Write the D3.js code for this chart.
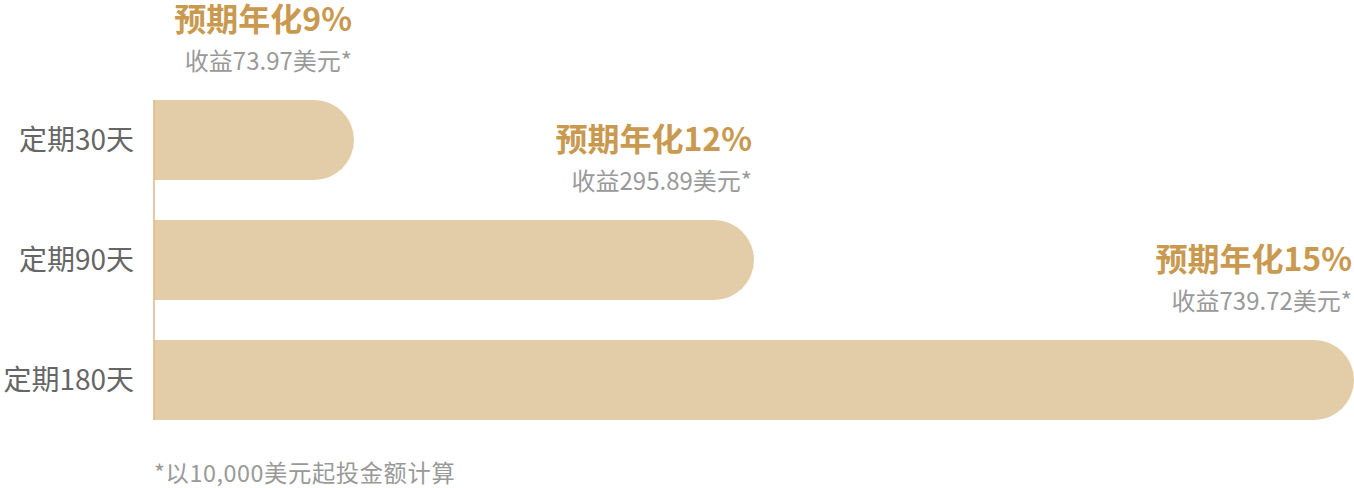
<!DOCTYPE html>
<html><head><meta charset="utf-8">
<script src="https://cdn.jsdelivr.net/npm/d3@7"></script>
<style>body{margin:0;background:#fff}svg{display:block}text{font-family:"Noto Sans CJK SC","Noto Sans",sans-serif}</style>
</head><body><svg id="c" width="1354" height="488"></svg>
<script>
const categories = ["定期30天", "定期90天", "定期180天"];
const days = [30, 90, 180];
const rates = ["9%", "12%", "15%"];
const earnings = ["73.97", "295.89", "739.72"];
const footnote = "*以10,000美元起投金额计算";

const data = categories.map((c, i) => ({c, d: days[i], r: rates[i], e: earnings[i]}));
const svg = d3.select("#c");
const x = d3.scaleLinear().domain([0, 180]).range([154, 1354]);
const y = d3.scaleBand().domain(categories).range([100, 420]).paddingInner(1/3).paddingOuter(0);
const h = y.bandwidth(), r = h / 2;

svg.selectAll("path.bar").data(data).join("path").attr("class", "bar")
  .attr("fill", "#e3cda8")
  .attr("d", d => {
    const x0 = x(0), x1 = x(d.d), y0 = y(d.c);
    return `M${x0},${y0}L${x1 - r},${y0}A${r},${r} 0 0 1 ${x1 - r},${y0 + h}L${x0},${y0 + h}Z`;
  });

svg.append("line").attr("x1", x(0)).attr("x2", x(0)).attr("y1", y.range()[0]).attr("y2", y.range()[1])
  .attr("stroke", "#dcb882").attr("stroke-width", 1.5);

svg.selectAll("text.cat").data(data).join("text").attr("class", "cat")
  .attr("x", x(0) - 20).attr("y", d => y(d.c) + h / 2).attr("dy", "0.36em")
  .attr("text-anchor", "end").attr("font-size", 28).attr("fill", "#666").text(d => d.c);

svg.selectAll("text.rate").data(data).join("text").attr("class", "rate")
  .attr("x", d => x(d.d) - 2).attr("y", d => y(d.c) - 69)
  .attr("text-anchor", "end").attr("font-size", 32).attr("font-weight", "bold").attr("fill", "#c9994f")
  .text(d => "预期年化" + d.r);

svg.selectAll("text.earn").data(data).join("text").attr("class", "earn")
  .attr("x", d => x(d.d) - 2).attr("y", d => y(d.c) - 30)
  .attr("text-anchor", "end").attr("font-size", 24).attr("fill", "#999")
  .text(d => "收益" + d.e + "美元*");

svg.append("text").attr("x", x(0)).attr("y", 482).attr("font-size", 23.3).attr("letter-spacing", 0.6)
  .attr("fill", "#999").text(footnote);
</script></body></html>
